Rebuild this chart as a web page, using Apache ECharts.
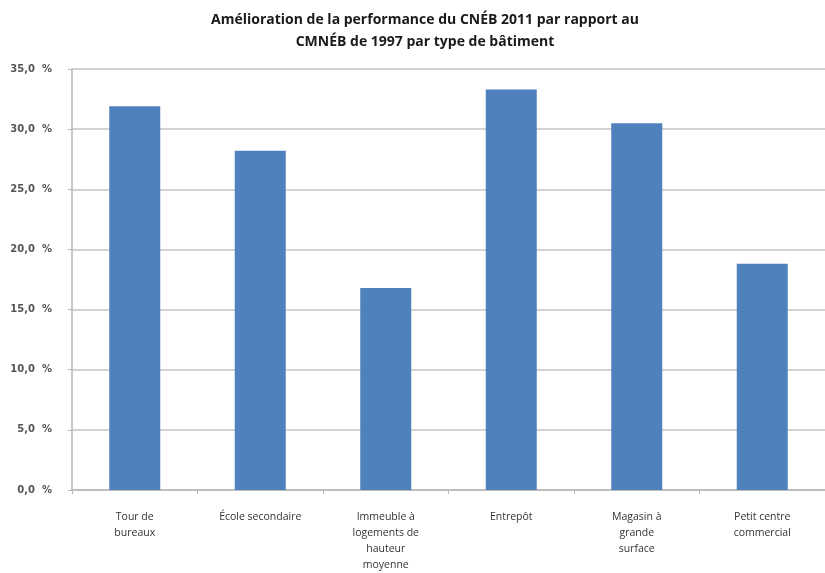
<!DOCTYPE html>
<html>
<head>
<meta charset="utf-8">
<script src="https://cdn.jsdelivr.net/npm/echarts@6/dist/echarts.min.js"></script>
<style>
  html, body { margin: 0; padding: 0; background: #fff; }
  #chart { width: 825px; height: 573px; }
</style>
</head>
<body>
<div id="chart"></div>
<script>
// categories (bâtiments) and improvement values in %
const categories = [
  'Tour de\nbureaux',
  'École secondaire',
  'Immeuble à\nlogements de\nhauteur\nmoyenne',
  'Entrepôt',
  'Magasin à\ngrande\nsurface',
  'Petit centre\ncommercial'
]
const improvement = [31.9, 28.2, 16.8, 33.3, 30.5, 18.8]

const chart = echarts.init(document.getElementById('chart'))

const option = {
  animation: false,
  title: {
    text: 'Amélioration de la performance du CNÉB 2011 par rapport au\nCMNÉB de 1997 par type de bâtiment',
    left: 425,
    top: 9,
    padding: 0,
    textAlign: 'center',
    textStyle: {
      fontFamily: 'Open Sans',
      fontWeight: 'bold',
      fontSize: 14,
      lineHeight: 22,
      color: '#1a1a1a'
    }
  },
  grid: {
    left: 72,
    right: -9,
    top: 69,
    bottom: 73,
    containLabel: false
  },
  xAxis: {
    type: 'category',
    data: categories,
    axisLine: { lineStyle: { color: '#b8b8b8', width: 1.5 } },
    axisTick: { show: true, length: 4, lineStyle: { color: '#b8b8b8' } },
    axisLabel: {
      interval: 0,
      margin: 19,
      fontFamily: 'Open Sans',
      fontSize: 10.5,
      lineHeight: 16,
      color: '#333'
    }
  },
  yAxis: {
    type: 'value',
    min: 0,
    max: 35,
    interval: 5,
    axisLine: { show: true, lineStyle: { color: '#b8b8b8', width: 1.5 } },
    axisTick: { show: true, length: 4, lineStyle: { color: '#b8b8b8' } },
    splitLine: { lineStyle: { color: '#c4c4c4', width: 1.5 } },
    axisLabel: {
      margin: 20,
      fontFamily: 'DejaVu Sans',
      fontWeight: 'bold',
      fontSize: 10,
      color: '#555',
      formatter: v => v.toFixed(1).replace('.', ',') + '  %'
    }
  },
  series: [
    {
      type: 'bar',
      data: improvement,
      barWidth: 51,
      itemStyle: { color: '#4f81bd' }
    }
  ]
}

chart.setOption(option)
</script>
</body>
</html>
